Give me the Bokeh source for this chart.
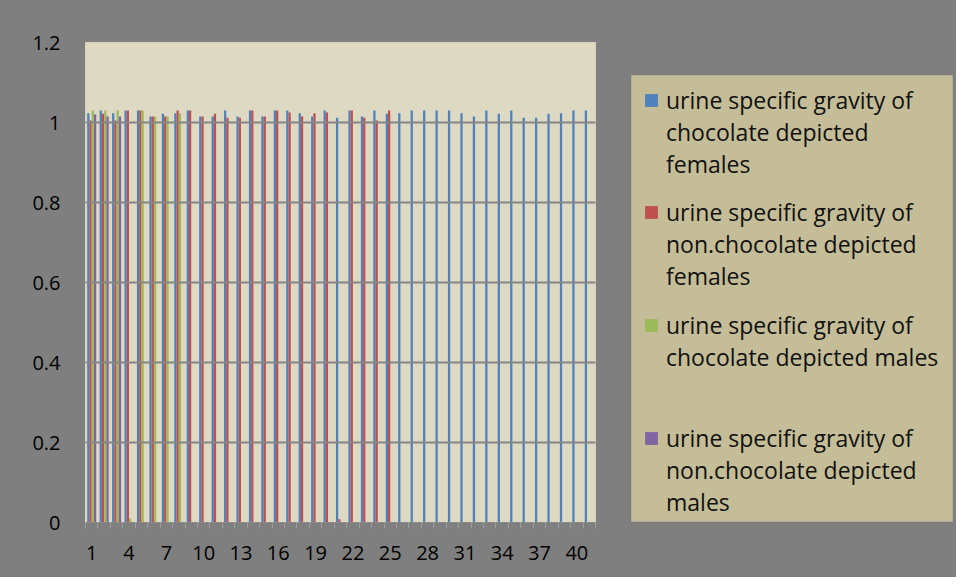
from bokeh.plotting import figure
from bokeh.layouts import row
from bokeh.models import (Legend, LegendItem, FixedTicker, NumeralTickFormatter,
                          Range1d, ColumnDataSource, BoxAnnotation)
from bokeh.transform import dodge
from bokeh.embed import file_html
from bokeh.resources import INLINE

# ---------------- data ----------------
categories = list(range(1, 42))

chocolate_females = [1.023, 1.03, 1.023, 1.03, 1.03, 1.015, 1.022, 1.023, 1.03, 1.015,
                     1.015, 1.03, 1.015, 1.03, 1.015, 1.03, 1.03, 1.023, 1.015, 1.03,
                     1.012, 1.03, 1.015, 1.03, 1.022, 1.023, 1.03, 1.03, 1.03, 1.03,
                     1.023, 1.015, 1.03, 1.022, 1.03, 1.012, 1.012, 1.022, 1.023, 1.03,
                     1.03]
non_chocolate_females = [1.005, 1.022, 1.005, 1.03, 1.03, 1.015, 1.015, 1.03, 1.03, 1.015,
                         1.022, 1.012, 1.012, 1.03, 1.015, 1.03, 1.025, 1.015, 1.023, 1.025,
                         0.008, 1.03, 1.012, 1.005, 1.03]
chocolate_males = [1.03, 1.03, 1.03, 0.01, 1.03, 1.015, 1.015, 1.023]
non_chocolate_males = [1.02, 1.015, 1.015]

series_label_lines = [
    ["urine specific gravity of", "chocolate depicted", "females"],
    ["urine specific gravity of", "non.chocolate depicted", "females"],
    ["urine specific gravity of", "chocolate depicted males"],
    ["urine specific gravity of", "non.chocolate depicted", "males"],
]
series_colors = ["#4f81bd", "#c0504d", "#9bbb59", "#8064a2"]

x_tick_values = list(range(1, 42, 3))
y_tick_values = [0, 0.2, 0.4, 0.6, 0.8, 1.0, 1.2]

# ---------------- chart figure ----------------
FONT = "Open Sans"
BG = "#7f7f7f"
H = 577
TOP, BOTTOM = 42, 55

p = figure(width=620, height=H,
           x_range=Range1d(0.5, 41.5), y_range=Range1d(0, 1.2),
           output_backend="svg", toolbar_location=None,
           min_border_left=85, min_border_right=25,
           min_border_top=TOP, min_border_bottom=BOTTOM,
           styles={"background-color": BG})

p.background_fill_color = "#ddd9c3"
p.border_fill_color = BG
p.outline_line_color = "#d6d2bc"

bar_w = 1 / 5.5
offsets = [-1.5 * bar_w, -0.5 * bar_w, 0.5 * bar_w, 1.5 * bar_w]
all_series = [chocolate_females, non_chocolate_females, chocolate_males, non_chocolate_males]

for vals, off, col in zip(all_series, offsets, series_colors):
    src = ColumnDataSource(dict(x=categories[:len(vals)], top=vals))
    p.vbar(x=dodge("x", off, range=p.x_range), top="top", width=bar_w,
           source=src, fill_color=col, line_color=None)

# grid
p.xgrid.grid_line_color = None
p.ygrid.ticker = FixedTicker(ticks=y_tick_values)
p.ygrid.grid_line_color = "#868686"
p.ygrid.grid_line_width = 2
p.ygrid.level = "overlay"

# y axis
p.yaxis.ticker = FixedTicker(ticks=y_tick_values)
p.yaxis.formatter = NumeralTickFormatter(format="0.[0]")
p.yaxis.axis_line_color = None
p.yaxis.major_tick_line_color = None
p.yaxis.minor_tick_line_color = None
p.yaxis.major_tick_out = 0
p.yaxis.major_label_standoff = 25
p.yaxis.major_label_text_font = FONT
p.yaxis.major_label_text_font_size = "20px"
p.yaxis.major_label_text_color = "#000000"

# x axis
p.xaxis.ticker = FixedTicker(ticks=x_tick_values,
                             minor_ticks=[c + 0.5 for c in [0] + categories])
p.xaxis.axis_line_color = "#8a8a8a"
p.xaxis.major_tick_line_color = None
p.xaxis.major_tick_out = 0
p.xaxis.major_tick_in = 0
p.xaxis.minor_tick_line_color = "#9c9c9c"
p.xaxis.minor_tick_out = 6
p.xaxis.minor_tick_in = 0
p.xaxis.major_label_standoff = 17
p.xaxis.major_label_text_font = FONT
p.xaxis.major_label_text_font_size = "20px"
p.xaxis.major_label_text_color = "#000000"

# ---------------- legend panel (pixel coordinates, y measured up from page bottom) ----------------
LW = 336
lg = figure(width=LW, height=H, x_range=Range1d(0, LW), y_range=Range1d(BOTTOM, H - TOP),
            output_backend="svg", toolbar_location=None,
            x_axis_location=None, y_axis_location=None,
            min_border_left=0, min_border_right=0,
            min_border_top=TOP, min_border_bottom=BOTTOM,
            styles={"background-color": BG})
lg.grid.visible = False
lg.background_fill_color = BG
lg.border_fill_color = BG
lg.outline_line_color = BG
lg.outline_line_width = 2

box = BoxAnnotation(left=11, right=332, bottom=H - 521, top=H - 75,
                    fill_color="#c4bd97", fill_alpha=1.0,
                    line_color="#d8d3b6", line_width=1, level="underlay")
lg.add_layout(box)

# legend swatches: hidden copies of the series in the legend panel
swatches = []
for vals, col in zip(all_series, series_colors):
    swatches.append(lg.vbar(x=categories[:len(vals)], top=vals, width=bar_w,
                            fill_color=col, line_color=None, visible=False))
blank = lg.vbar(x=categories, top=chocolate_females, width=bar_w,
                fill_alpha=0, line_alpha=0, visible=False)

LINE_H = 32
tops = [84, 196, 309, 422]   # page y of each legend block's top
frame_bottom_page = H - BOTTOM
for lines, sw, top in zip(series_label_lines, swatches, tops):
    its = [LegendItem(label=lines[0], renderers=[sw])]
    its += [LegendItem(label=t, renderers=[blank]) for t in lines[1:]]
    bottom_page = top + LINE_H * len(lines)
    leg = Legend(items=its, location=(23, frame_bottom_page - bottom_page),
                 padding=0, margin=0, spacing=0,
                 label_height=LINE_H, glyph_width=16, glyph_height=16,
                 label_standoff=7,
                 label_text_font=FONT, label_text_font_size="23px",
                 label_text_color="#111111",
                 background_fill_alpha=0, border_line_color=None,
                 inactive_fill_alpha=0)
    lg.add_layout(leg, "center")

layout = row(p, lg, spacing=0, styles={"background-color": BG})
html = file_html(layout, INLINE)
html = html.replace("<body>", '<body style="background-color:#7f7f7f;">', 1)
open("out.html", "w").write(html)
